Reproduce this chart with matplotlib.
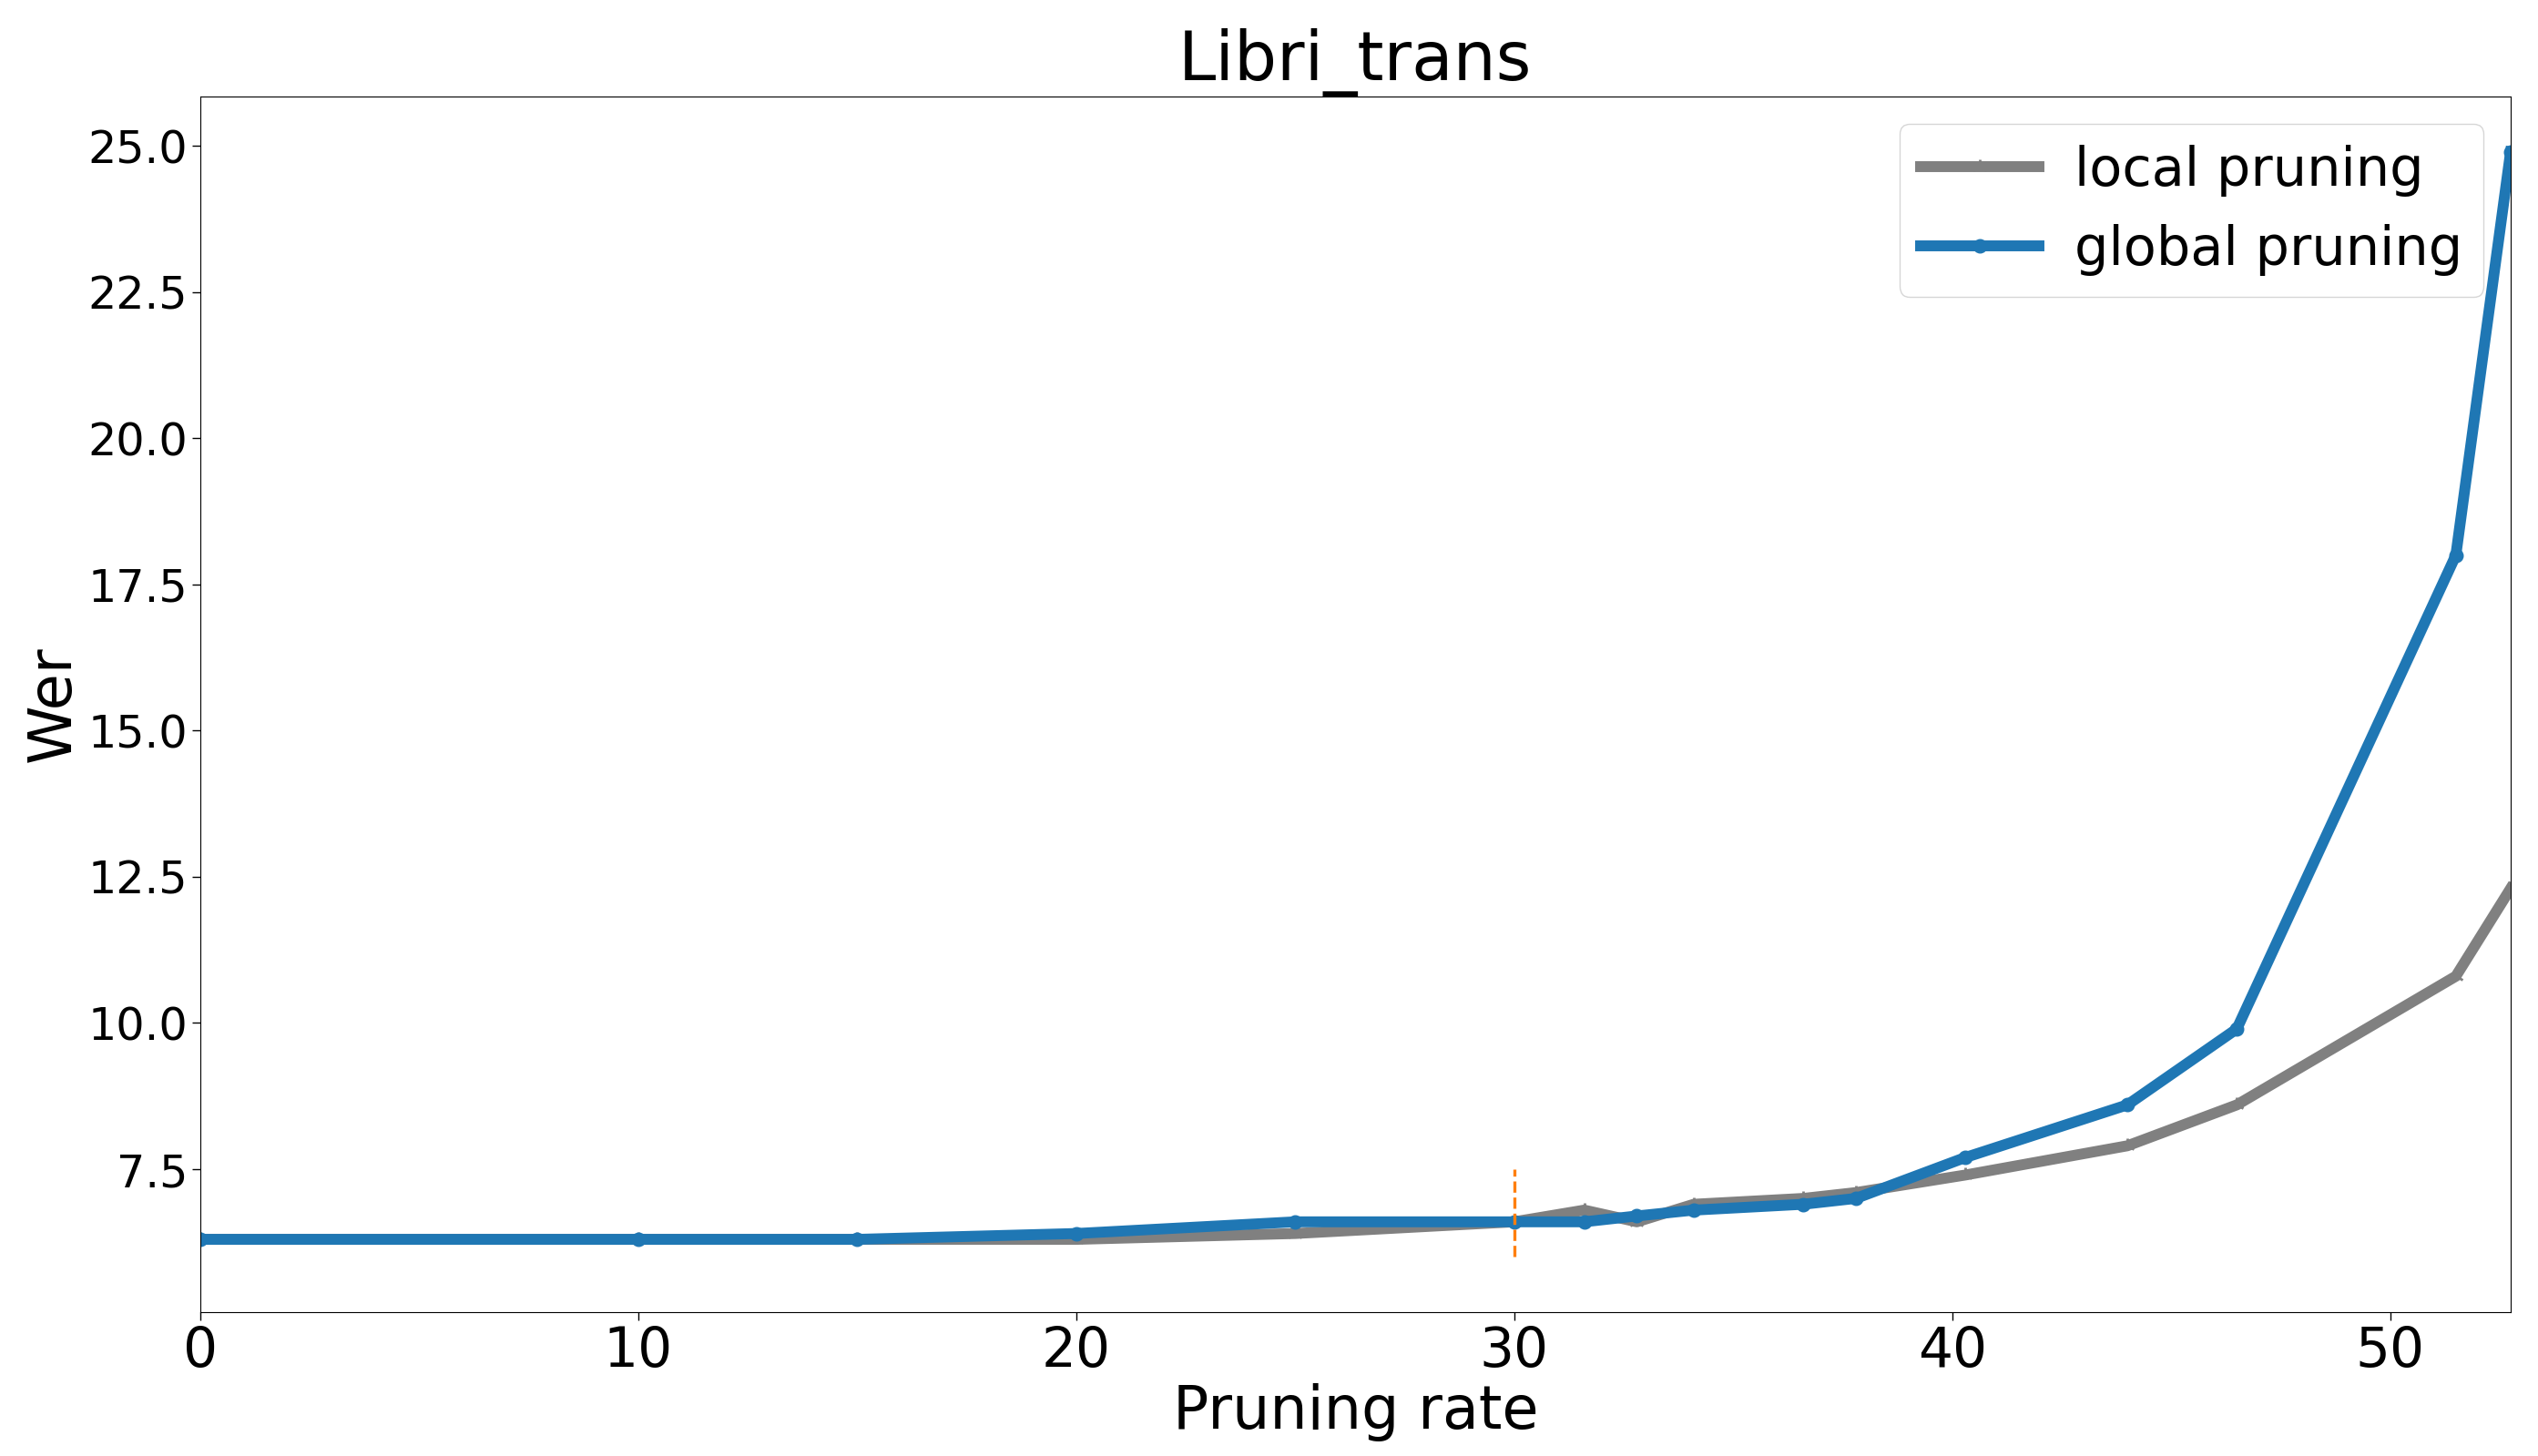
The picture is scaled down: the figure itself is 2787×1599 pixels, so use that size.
import matplotlib
matplotlib.use("Agg")
import matplotlib.pyplot as plt

# Data
pruning_rate = [0, 10, 15, 20, 25, 30, 31.6, 32.8, 34.1, 36.6, 37.8, 40.3, 44.0, 46.5, 51.5, 52.75]
local_wer = [6.3, 6.3, 6.3, 6.3, 6.4, 6.6, 6.8, 6.6, 6.9, 7.0, 7.1, 7.4, 7.9, 8.6, 10.8, 12.3]
global_wer = [6.3, 6.3, 6.3, 6.4, 6.6, 6.6, 6.6, 6.7, 6.8, 6.9, 7.0, 7.7, 8.6, 9.9, 18.0, 24.9]
series_labels = ["local pruning", "global pruning"]
title = "Libri_trans"
xlabel = "Pruning rate"
ylabel = "Wer"
marker_x = 30
marker_ymin, marker_ymax = 6.0, 7.5

fig = plt.figure(figsize=(27.87, 15.99), dpi=100)
ax = fig.add_axes([0.0789, 0.0988, 0.9892 - 0.0789, 0.9337 - 0.0988])

ax.plot(pruning_rate, local_wer, color="gray", linewidth=8.6, marker="2",
        markersize=12, markeredgewidth=2, label=series_labels[0])
ax.plot(pruning_rate, global_wer, color="#1f77b4", linewidth=8.6, marker=".",
        markersize=21, label=series_labels[1])
ax.vlines(marker_x, marker_ymin, marker_ymax, colors="#ff7f0e",
          linestyles="dashed", linewidth=2.4)

ax.set_xlim(pruning_rate[0], pruning_rate[-1])
ax.set_title(title, fontsize=53.5, pad=2)
ax.set_xlabel(xlabel, fontsize=47)
ax.set_ylabel(ylabel, fontsize=47)
ax.tick_params(axis="x", labelsize=43, length=6.5, width=1)
ax.tick_params(axis="y", labelsize=35.5, length=6.5, width=1)
ax.legend(loc="upper right", fontsize=42.5, handlelength=2.2, handletextpad=0.65)

fig.savefig("out.png", dpi=100)
